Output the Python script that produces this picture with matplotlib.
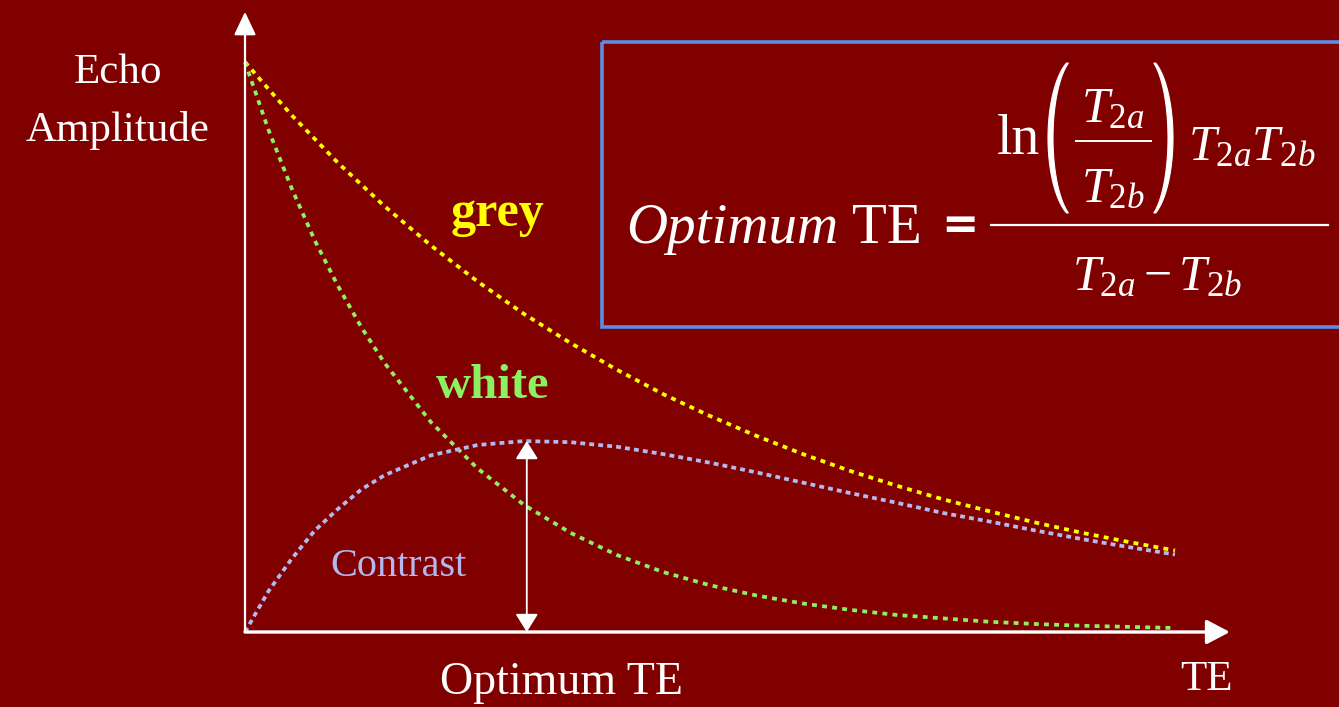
import numpy as np
import matplotlib
matplotlib.use("Agg")
import matplotlib.pyplot as plt
from matplotlib.patches import Rectangle
from matplotlib.lines import Line2D

# Echo time (arbitrary units) and normalised echo amplitudes
te = [0, 2.5, 5, 7.5, 10, 12.5, 15, 20, 25, 30, 35, 40, 45, 50,
      55, 60, 65, 70, 75, 80, 85, 90, 95, 100]
grey = [1.000, 0.953, 0.907, 0.865, 0.823, 0.785, 0.747, 0.678, 0.615,
        0.558, 0.507, 0.460, 0.417, 0.379, 0.344, 0.312, 0.283, 0.257,
        0.233, 0.212, 0.192, 0.174, 0.158, 0.143]
white = [1.000, 0.882, 0.779, 0.687, 0.607, 0.535, 0.472, 0.368, 0.287,
         0.223, 0.174, 0.135, 0.105, 0.082, 0.064, 0.050, 0.039, 0.030,
         0.024, 0.018, 0.014, 0.011, 0.009, 0.007]
contrast = [0.000, 0.071, 0.128, 0.178, 0.216, 0.250, 0.275, 0.310, 0.328,
            0.335, 0.333, 0.325, 0.312, 0.297, 0.280, 0.262, 0.244, 0.227,
            0.209, 0.194, 0.178, 0.163, 0.149, 0.136]
opt_te = 30.3
peak_contrast = 0.335
axis_te_max = 105.9
axis_amp_max = 1.088

BG = "#800000"
YELLOW = "#ffff00"
GREEN = "#8cf060"
LAVENDER = "#b4b8f0"
BOXBLUE = "#5a8ce8"
SERIF = "Liberation Serif"

plt.rcParams["mathtext.fontset"] = "custom"
plt.rcParams["mathtext.rm"] = SERIF
plt.rcParams["mathtext.it"] = SERIF + ":italic"

W, H = 1339, 707
fig = plt.figure(figsize=(W / 100, H / 100), dpi=100, facecolor=BG)

# data axes: origin of the plot sits at pixel (245, 632)
ax = fig.add_axes([0, 0, 1, 1])
ax.set_facecolor(BG)
ax.axis("off")
sx, sy = 9.3, 570.0
ax.set_xlim(-245 / sx, (W - 245) / sx)
ax.set_ylim((632 - H) / sy, 632 / sy)

# overlay in pixel units for labels and the equation panel
ov = fig.add_axes([0, 0, 1, 1], facecolor="none")
ov.axis("off")
ov.set_xlim(0, W)
ov.set_ylim(H, 0)

# axes with arrow heads
ax.annotate("", xy=(0, axis_amp_max), xytext=(0, 0),
            arrowprops=dict(arrowstyle="-|>,head_length=0.95,head_width=0.45",
                            color="white", lw=1.6, mutation_scale=15,
                            shrinkA=0, shrinkB=0))
ax.annotate("", xy=(axis_te_max, 0), xytext=(0, 0),
            arrowprops=dict(arrowstyle="-|>,head_length=0.95,head_width=0.5",
                            color="white", lw=2.4, mutation_scale=15,
                            shrinkA=0, shrinkB=0))

# decay curves and contrast
dots = (0, (1.3, 1.4))
ax.plot(te, grey, color=YELLOW, lw=2.7, ls=dots)
ax.plot(te, white, color=GREEN, lw=2.7, ls=dots)
ax.plot(te, contrast, color=LAVENDER, lw=2.7, ls=(0, (1.3, 1.1)))

# optimum TE double arrow
ax.annotate("", xy=(opt_te, peak_contrast), xytext=(opt_te, 0),
            arrowprops=dict(arrowstyle="<|-|>,head_length=0.8,head_width=0.5",
                            color="white", lw=1.3, mutation_scale=14,
                            shrinkA=0, shrinkB=0))

# labels
ov.text(118, 73, "Echo", color="white", family=SERIF,
        fontsize=31, ha="center", va="center")
ov.text(118, 130, "Amplitude", color="white", family=SERIF,
        fontsize=31, ha="center", va="center")
ov.text(497, 214, "grey", color=YELLOW, family=SERIF, fontsize=36,
        fontweight="bold", ha="center", va="center")
ov.text(493, 386, "white", color=GREEN, family=SERIF, fontsize=35,
        fontweight="bold", ha="center", va="center")
ov.text(399, 567, "Contrast", color=LAVENDER, family=SERIF, fontsize=29,
        ha="center", va="center")
ov.text(561, 683, "Optimum TE", color="white", family=SERIF, fontsize=33,
        ha="center", va="center")
ov.text(1206, 680, "TE", color="white", family=SERIF, fontsize=31,
        ha="center", va="center")

# equation panel
ov.add_patch(Rectangle((602, 42), 800, 285, fill=False, ec=BOXBLUE, lw=2.6))

ov.text(626, 243, "Optimum", color="white", family=SERIF, fontsize=41,
        fontstyle="italic", ha="left", va="baseline")
ov.text(852, 243, "TE", color="white", family=SERIF, fontsize=41,
        ha="left", va="baseline")
ov.text(960, 226, "=", color="white", family="DejaVu Sans", fontsize=32,
        fontweight="bold", ha="center", va="center")
ov.add_line(Line2D([991, 1328], [225, 225], color="white", lw=1.6))

ov.text(1018, 140, "ln", color="white", family=SERIF, fontsize=40,
        ha="center", va="center")


def paren(cx, cy, a_out, a_in, b, side):
    """Crescent-shaped bracket glyph, thick in the middle, thin at the ends."""
    t = np.radians(np.linspace(114, 246, 60))
    if side > 0:
        t = np.pi - t
    xo = cx + a_out * np.cos(t)
    yo = cy + b * np.sin(t)
    xi = cx + a_in * np.cos(t[::-1])
    yi = cy + b * np.sin(t[::-1])
    ov.fill(np.r_[xo, xi], np.r_[yo, yi], color="white", lw=0.8,
            ec="white")


paren(1079, 138, 31, 26, 82, -1)
paren(1144, 138, 29, 24, 82, +1)

ov.text(1113, 108, r"$T_{2a}$", color="white", fontsize=36,
        ha="center", va="center")
ov.add_line(Line2D([1076, 1151], [141, 141], color="white", lw=1.4))
ov.text(1113, 188, r"$T_{2b}$", color="white", fontsize=36,
        ha="center", va="center")
ov.text(1252, 146, r"$T_{2a}T_{2b}$", color="white", fontsize=36,
        ha="center", va="center")
ov.text(1157, 276, r"$T_{2a}-T_{2b}$", color="white", fontsize=36,
        ha="center", va="center")

fig.savefig("out.png", dpi=100, facecolor=BG)
